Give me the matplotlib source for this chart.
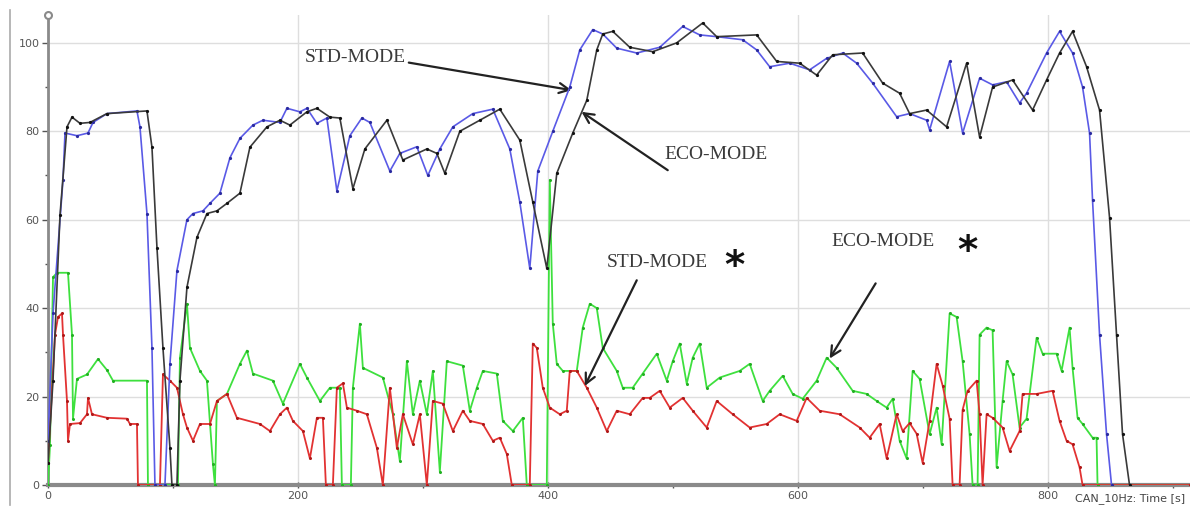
import matplotlib
matplotlib.use("Agg")
import matplotlib.pyplot as plt
from matplotlib.ticker import MultipleLocator
from matplotlib.lines import Line2D

# ---------------- data ----------------
# STD-MODE speed (blue)
std_speed_t = [0, 4, 12, 13.6, 23.2, 32, 36, 47.2, 71.2, 73.6, 79.2, 83.2, 85.6, 93.6, 97.6, 103.2,
               111.2, 116, 124, 129.6, 137.6, 145.6, 153.6, 164, 172, 185.6, 191.2, 201.6, 207.2,
               215.2, 223.2, 231.2, 241.6, 251.2, 257.6, 273.6, 281.6, 295.2, 304, 313.6, 324, 340,
               356, 369.6, 377.6, 385.6, 392, 404, 417.6, 425.6, 436, 444, 455.2, 471.2, 489.6, 508,
               521.6, 535.2, 556, 567.2, 577.6, 593.6, 609.6, 623.2, 636, 647.2, 660, 679.2, 689.6,
               703.2, 705.6, 721.6, 732, 745.6, 756, 767.2, 777.6, 783.2, 799.2, 809.6, 820, 828,
               833.6, 836, 841.6, 847.2, 851.2]
std_speed_v = [10, 38.8, 69, 79.6, 79, 79.6, 82, 84, 84.6, 81, 61.4, 31, 0, 0, 27.4, 48.5,
               60, 61.4, 62, 63.7, 66, 74, 78.4, 81.4, 82.5, 82, 85.2, 84.4, 85.2,
               81.8, 83, 66.5, 79, 83, 82, 71, 75, 76.5, 70, 76, 81, 84,
               85, 76, 64, 49, 71, 80, 90, 98.4, 103, 102, 98.8, 97.7, 99, 103.7,
               101.8, 101.4, 100.7, 98.4, 94.6, 95.4, 93.9, 96.5, 97.7, 95.4, 90.9, 83.3, 84,
               82.5, 80.3, 95.8, 79.6, 92, 90.5, 91.2, 86.4, 88.6, 97.7, 102.6, 97.7, 90,
               79.6, 64.4, 34, 11.5, 0]

# ECO-MODE speed (black)
eco_speed_t = [0, 4, 9.6, 15.2, 19.2, 25.6, 33.6, 47.2, 79.2, 83.2, 87.2, 92, 97.6, 99.2, 103.2,
               105.6, 111.2, 119.2, 127.2, 135.2, 143.2, 153.6, 161.6, 175.2, 185.6, 193.6, 207.2,
               215.2, 225.6, 233.6, 244, 253.6, 271.2, 284, 303.2, 311.2, 317.6, 329.6, 345.6,
               361.6, 377.6, 388, 399.2, 407.2, 420, 431.2, 439.2, 444, 452, 465.6, 484, 503.2,
               524, 535.2, 567.2, 583.2, 601.6, 615.2, 628, 652, 668, 681.6, 689.6, 703.2, 719.2,
               735.2, 745.6, 756, 772, 788, 799.2, 809.6, 820, 831.2, 841.6, 849.6, 855.2, 860,
               865.6]
eco_speed_v = [5, 23.6, 61, 81, 83.2, 81.8, 82, 84, 84.6, 76.4, 53.7, 31, 8.4, 0, 0,
               23.6, 44.7, 56, 61.4, 62, 63.7, 66, 76.4, 81, 82.5, 81.4, 84.4,
               85.2, 83.2, 83, 67, 76, 82.5, 73.5, 76, 75, 70.5, 80, 82.5,
               85, 78, 64, 49, 70.5, 79.6, 87, 98.4, 102, 102.6, 99, 98, 100,
               104.5, 101.4, 101.8, 95.8, 95.4, 92.7, 97.3, 97.7, 90.9, 88.6, 84, 84.8, 81,
               95.4, 78.7, 90, 91.6, 84.8, 91.6, 97.7, 102.6, 94.6, 84.8, 60.5, 34, 11.5,
               0]

# STD-MODE signal (red)
std_sig_t = [0, 5.6, 8, 11.2, 12, 15.2, 16, 17.6, 25.6, 31.2, 32, 35.2, 47.2, 63.2, 65.6, 71.2, 72,
             89.6, 92, 97.6, 103.2, 108, 111.2, 116, 121.6, 129.6, 135.2, 143.2, 151.2, 169.6,
             177.6, 185.6, 191.2, 196, 204, 209.6, 215.2, 220, 222.4, 228, 231.2, 236, 239.2,
             247.2, 255.2, 263.2, 268, 273.6, 279.2, 284, 292, 297.6, 303.2, 308, 316, 324, 332,
             337.6, 348, 356, 361.6, 367.2, 371.2, 385.6, 388, 391.2, 396, 401.6, 409.6, 415.2,
             417.6, 423.2, 431.2, 439.2, 447.2, 455.2, 465.6, 476, 481.6, 489.6, 497.6, 508, 516,
             527.2, 535.2, 548, 561.6, 575.2, 585.6, 599.2, 607.2, 617.6, 633.6, 649.6, 657.6,
             665.6, 671.2, 679.2, 684, 689.6, 695.2, 700, 705.6, 711.2, 716, 721.6, 724, 729.6,
             732, 736, 743.2, 745.6, 748, 751.2, 756, 764, 769.6, 777.6, 780, 791.2, 804, 809.6,
             815.2, 820, 825.6, 828, 914]
std_sig_v = [5, 34, 38, 38.8, 34, 19, 10, 13.8, 14, 16, 19.7, 16, 15.2, 15, 13.8, 13.8, 0,
             0, 25, 23.6, 22, 16, 13, 10, 13.8, 13.8, 19, 20.6, 15.2, 13.8,
             12.2, 16, 17.5, 14.5, 12.2, 6, 15.2, 15.2, 0, 0, 22, 23, 17.5,
             16.8, 16, 8.4, 0, 22, 8.4, 16, 9.2, 16, 0, 19, 18.4, 12.2, 16.8,
             14.5, 13.8, 10, 10.7, 7, 0, 0, 32, 31, 22, 17.5, 16, 16.8,
             25.8, 25.8, 22, 17.5, 12.2, 16.8, 16, 19.7, 19.7, 21.3, 17.5, 19.7, 16.8,
             13, 19, 16, 13, 13.8, 16, 14.5, 19.7, 16.8, 16, 13, 10.7,
             13.8, 6, 16, 12.2, 14, 11.6, 5, 14.5, 27.4, 22.5, 15, 0, 0,
             17, 21.3, 23.6, 16, 0, 16, 15.2, 13, 7.7, 12.2, 20.6, 20.6, 21.3, 14.5,
             10, 9.2, 4, 0, 0]

# ECO-MODE signal (green)
eco_sig_t = [0, 1.6, 4, 7.2, 16, 19.2, 20, 23.2, 31.2, 40, 47.2, 52, 79.2, 80, 104, 105.6, 111.2,
             113.6, 121.6, 127.2, 132, 133.6, 135.2, 143.2, 153.6, 159.2, 164, 180, 188, 201.6,
             207.2, 217.6, 225.6, 233.6, 235.2, 242.4, 244, 249.6, 252, 268, 276, 281.6, 287.2,
             292, 297.6, 303.2, 308, 313.6, 319.2, 332, 337.6, 343.2, 348, 359.2, 364, 372, 380,
             383.2, 399.2, 401.6, 404, 407.2, 412, 423.2, 428, 433.6, 439.2, 444, 455.2, 460, 468,
             476, 487.2, 495.2, 500, 505.6, 511.2, 516, 521.6, 527.2, 537.6, 553.6, 561.6, 572,
             577.6, 588, 596, 604, 615.2, 623.2, 631.2, 644, 655.2, 663.2, 671.2, 676, 681.6,
             687.2, 692, 697.6, 705.6, 711.2, 715.2, 721.6, 727.2, 732, 737.6, 740, 744, 745.6,
             751.2, 756, 759.2, 764, 767.2, 772, 777.6, 783.2, 791.2, 796, 807.2, 811.2, 817.6,
             820, 824, 828, 836, 839.2, 840, 914]
eco_sig_v = [0, 9, 47, 48, 48, 34, 15, 24, 25, 28.5, 26, 23.6, 23.6, 0, 0, 28.8, 41,
             31, 25.8, 23.6, 4.7, 0, 19, 20.6, 27.4, 30.4, 25.2, 23.6, 18.4, 27.4,
             24.3, 19, 22, 22, 0, 0, 22, 36.5, 26.5, 24.3, 16, 5.4, 28,
             16, 23.6, 16, 25.8, 3, 28, 27, 16.8, 22, 25.8, 25.2, 14.5, 12.2, 15.2,
             0, 0, 69, 36.5, 27.4, 25.8, 25.8, 35.6, 41, 40, 31, 25.8, 22, 22,
             25.2, 29.7, 23.6, 28, 32, 22.9, 28.8, 32, 22, 24.3, 25.8, 27.4, 19,
             21.3, 24.7, 20.6, 19.5, 23.6, 28.8, 26.5, 21.3, 20.6, 19, 17.5, 19.5, 10,
             6, 25.8, 24, 11.5, 17.5, 9.2, 38.8, 38, 28, 11.5, 0, 0, 34,
             35.6, 35, 4, 19, 28, 25, 13, 15, 33.3, 29.7, 29.7, 25.8, 35.6,
             26.5, 15.2, 13.8, 10.7, 10.7, 0, 0]

y_ticks = [0, 20, 40, 60, 80, 100]
x_ticks = [0, 200, 400, 600, 800]
x_label = "CAN_10Hz: Time [s]"

# ---------------- figure ----------------
W, H = 1190, 525
fig = plt.figure(figsize=(W / 100, H / 100), dpi=100)
fig.patch.set_facecolor("white")
ax = fig.add_axes([48 / W, (H - 485) / H, (W - 48) / W, 470 / H])
ax.set_xlim(0, 914)
ax.set_ylim(0, 106.3)

ax.grid(True, which="major", color="#dedede", lw=1.0)
ax.set_axisbelow(True)

ax.plot(std_speed_t, std_speed_v, color="#5a5ae6", lw=1.2, marker="o", ms=1.3,
        mfc="#2a2aa0", mec="#2a2aa0", zorder=4)
ax.plot(eco_speed_t, eco_speed_v, color="#3a3a3a", lw=1.2, marker="o", ms=1.3,
        mfc="#111111", mec="#111111", zorder=4)
ax.plot(eco_sig_t, eco_sig_v, color="#3ee03e", lw=1.3, marker="o", ms=1.2,
        mfc="#22b022", mec="#22b022", zorder=3)
ax.plot(std_sig_t, std_sig_v, color="#e23232", lw=1.3, marker="o", ms=1.2,
        mfc="#b01818", mec="#b01818", zorder=3)

for s in ["top", "right"]:
    ax.spines[s].set_visible(False)
ax.spines["left"].set_color("#8a8a8a")
ax.spines["left"].set_linewidth(2)
ax.spines["bottom"].set_color("#8a8a8a")
ax.spines["bottom"].set_linewidth(3)

ax.set_yticks(y_ticks)
ax.set_xticks(x_ticks)
ax.yaxis.set_minor_locator(MultipleLocator(10))
ax.xaxis.set_minor_locator(MultipleLocator(100))
ax.tick_params(axis="both", which="major", length=4, width=1, color="#555555",
               labelsize=8, labelcolor="#555555", pad=2)
ax.tick_params(axis="both", which="minor", length=2, width=1, color="#555555")
ax.tick_params(axis="x", direction="inout", length=5)
ax.tick_params(axis="y", direction="out")

# small circle at top of y axis
ax.plot([0], [106.3], marker="o", ms=5, mfc="white", mec="#8a8a8a", mew=1.5,
        clip_on=False, zorder=6)

fig.text(1185 / W, 1 - 499 / H, x_label, ha="right", va="center", fontsize=8,
         color="#444444", family="DejaVu Sans")

# window frame line at left
fig.add_artist(Line2D([10 / W, 10 / W], [1 - 10 / H, 1 - 505 / H], color="#aaaaaa", lw=1.2))

# ---------------- annotations ----------------
txt = dict(fontsize=14, color="#3a3a3a", family="Liberation Serif")
arr = dict(arrowstyle="->", color="#222222", lw=1.6, mutation_scale=18)
star = dict(ha="center", va="center", fontsize=28, fontweight="bold",
            family="DejaVu Sans", color="#111111")

ax.annotate("STD-MODE", xy=(419, 89.3), xytext=(205.6, 96.6), ha="left", va="center",
            arrowprops=dict(arr, shrinkA=0, shrinkB=0, relpos=(1.0, 0.25)), **txt)
ax.annotate("", xy=(427, 84.4), xytext=(496, 71.2), arrowprops=dict(arr, shrinkA=0, shrinkB=0))
ax.text(493.6, 74.8, "ECO-MODE", ha="left", va="center", **txt)

ax.text(447, 50.3, "STD-MODE", ha="left", va="center", **txt)
ax.text(549.5, 49.2, "*", **star)
ax.annotate("", xy=(429.6, 22.4), xytext=(471.2, 46.3), arrowprops=dict(arr, shrinkA=0, shrinkB=0))

ax.text(627, 55, "ECO-MODE", ha="left", va="center", **txt)
ax.text(736, 52.7, "*", **star)
ax.annotate("", xy=(625.6, 28.6), xytext=(662.4, 45.6), arrowprops=dict(arr, shrinkA=0, shrinkB=0))

fig.savefig("out.png", dpi=100, facecolor="white")
